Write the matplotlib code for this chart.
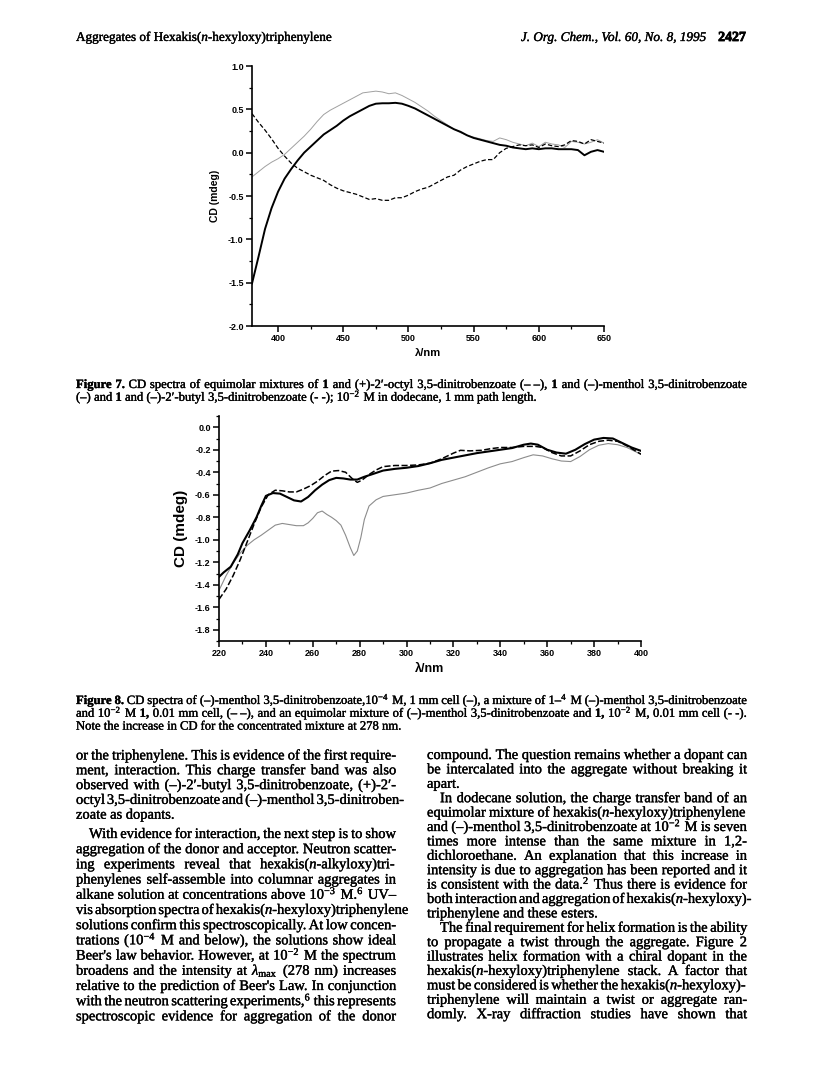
import matplotlib
matplotlib.use("Agg")
import matplotlib.pyplot as plt
import matplotlib.patheffects as pe
import numpy as np
from matplotlib.ticker import MultipleLocator, FormatStrFormatter

# ---- Figure 7 data (CD, mdeg vs nm) ----
f7_nm = [380, 385, 390, 395, 400, 405, 410, 415, 420, 425, 430, 435, 440, 445,
         450, 455, 460, 465, 470, 475, 480, 485, 490, 495, 500, 505, 510, 515,
         520, 525, 530, 535, 540, 545, 550, 555, 560, 565, 570, 575, 580, 585,
         590, 595, 600, 605, 610, 615, 620, 625, 630, 635, 640, 645, 650]
f7_menthol = [-1.51, -1.20, -0.88, -0.64, -0.45, -0.30, -0.19, -0.09, 0.0, 0.07,
              0.14, 0.21, 0.26, 0.31, 0.37, 0.42, 0.46, 0.50, 0.54, 0.565, 0.57,
              0.57, 0.575, 0.565, 0.54, 0.51, 0.47, 0.43, 0.39, 0.35, 0.31, 0.27,
              0.24, 0.20, 0.17, 0.15, 0.13, 0.11, 0.09, 0.08, 0.06, 0.05, 0.04,
              0.05, 0.04, 0.05, 0.05, 0.04, 0.04, 0.04, 0.03, -0.03, 0.01, 0.03, 0.01]
f7_butyl = [-0.28, -0.22, -0.16, -0.11, -0.07, -0.02, 0.05, 0.12, 0.19, 0.27,
            0.36, 0.44, 0.49, 0.53, 0.57, 0.61, 0.65, 0.69, 0.70, 0.71, 0.70,
            0.68, 0.69, 0.66, 0.62, 0.58, 0.53, 0.48, 0.42, 0.37, 0.32, 0.27,
            0.23, 0.20, 0.18, 0.16, 0.14, 0.13, 0.17, 0.15, 0.12, 0.10, 0.08,
            0.11, 0.07, 0.12, 0.10, 0.09, 0.06, 0.13, 0.12, 0.10, 0.12, 0.15, 0.11]
f7_octyl = [0.45, 0.35, 0.26, 0.16, 0.05, -0.04, -0.12, -0.18, -0.22, -0.26,
            -0.29, -0.32, -0.37, -0.41, -0.44, -0.46, -0.48, -0.51, -0.54, -0.53,
            -0.55, -0.55, -0.52, -0.52, -0.49, -0.45, -0.42, -0.40, -0.36, -0.32,
            -0.28, -0.26, -0.20, -0.16, -0.13, -0.10, -0.08, -0.08, 0.0, 0.05,
            0.07, 0.09, 0.08, 0.09, 0.06, 0.10, 0.08, 0.07, 0.09, 0.14, 0.13,
            0.10, 0.15, 0.13, 0.11]

# ---- Figure 8 data ----
f8_solid_nm = [220, 222, 225, 228, 230, 233, 236, 238, 240, 243, 246, 249, 252,
               255, 258, 261, 264, 267, 270, 273, 276, 279, 282, 285, 290, 295,
               300, 305, 310, 315, 320, 325, 330, 335, 340, 345, 350, 353, 356,
               360, 364, 368, 372, 376, 380, 384, 388, 392, 396, 400]
f8_solid = [-1.33, -1.29, -1.24, -1.13, -1.03, -0.92, -0.80, -0.70, -0.61, -0.585,
            -0.59, -0.62, -0.65, -0.66, -0.62, -0.56, -0.51, -0.47, -0.45, -0.455,
            -0.465, -0.465, -0.44, -0.42, -0.385, -0.37, -0.36, -0.345, -0.32,
            -0.29, -0.27, -0.25, -0.23, -0.215, -0.20, -0.185, -0.155, -0.145,
            -0.155, -0.20, -0.225, -0.235, -0.20, -0.15, -0.11, -0.095, -0.10,
            -0.14, -0.18, -0.21]
f8_dash_nm = [220, 223, 226, 229, 232, 235, 238, 241, 244, 247, 250, 253, 256,
              259, 262, 265, 268, 271, 274, 277, 279, 281, 284, 287, 290, 295,
              300, 305, 310, 315, 320, 323, 327, 332, 336, 340, 345, 350, 355,
              358, 362, 366, 370, 374, 378, 382, 386, 390, 394, 400]
f8_dash = [-1.53, -1.44, -1.32, -1.18, -1.02, -0.86, -0.71, -0.60, -0.56, -0.565,
           -0.575, -0.575, -0.55, -0.52, -0.48, -0.43, -0.39, -0.385, -0.40,
           -0.46, -0.49, -0.47, -0.42, -0.38, -0.35, -0.34, -0.34, -0.335, -0.32,
           -0.28, -0.23, -0.205, -0.21, -0.205, -0.19, -0.18, -0.18, -0.17, -0.17,
           -0.18, -0.225, -0.255, -0.255, -0.21, -0.155, -0.125, -0.115, -0.125,
           -0.165, -0.24]
f8_gray_nm = [220, 223, 226, 229, 232, 235, 238, 241, 244, 247, 250, 253, 256,
              258, 260, 262, 264, 266, 268, 270, 272, 274, 276, 277.5, 279, 280.5,
              282, 284, 287, 290, 295, 300, 305, 310, 315, 320, 325, 330, 335, 340,
              345, 350, 354, 358, 362, 366, 370, 374, 378, 382, 386, 390, 394, 400]
f8_gray = [-1.45, -1.32, -1.21, -1.12, -1.05, -1.0, -0.96, -0.915, -0.87, -0.855,
           -0.865, -0.875, -0.875, -0.85, -0.81, -0.76, -0.745, -0.775, -0.80,
           -0.83, -0.87, -0.96, -1.07, -1.14, -1.10, -0.98, -0.82, -0.70, -0.645,
           -0.615, -0.60, -0.585, -0.56, -0.54, -0.50, -0.47, -0.44, -0.40, -0.36,
           -0.325, -0.305, -0.27, -0.245, -0.255, -0.28, -0.30, -0.305, -0.26,
           -0.20, -0.16, -0.145, -0.155, -0.18, -0.24]

# ---- page text ----
header_left = "Aggregates of Hexakis($n$-hexyloxy)triphenylene"
header_right = "J. Org. Chem., Vol. 60, No. 8, 1995"
page_no = "2427"

cap7 = [
    ("*Figure* *7.* CD spectra of equimolar mixtures of *1* and (+)-2\u2032-octyl 3,5-dinitrobenzoate (\u2013\u00a0\u2013), *1* and (\u2013)-menthol 3,5-dinitrobenzoate", True),
    ("(\u2013) and *1* and (\u2013)-2\u2032-butyl 3,5-dinitrobenzoate (-\u00a0-); 10$^{-2}$ M in dodecane, 1 mm path length.", False),
]
cap8 = [
    ("*Figure* *8.* CD spectra of (\u2013)-menthol 3,5-dinitrobenzoate,10$^{-4}$ M, 1 mm cell (\u2013), a mixture of 1\u2013$^{4}$ M (\u2013)-menthol 3,5-dinitrobenzoate", True),
    ("and 10$^{-2}$ M *1,* 0.01 mm cell, (\u2013\u00a0\u2013), and an equimolar mixture of (\u2013)-menthol 3,5-dinitrobenzoate and *1,* 10$^{-2}$ M, 0.01 mm cell (-\u00a0-).", True),
    ("Note the increase in CD for the concentrated mixture at 278 nm.", False),
]

left_col = [
    ("or the triphenylene. This is evidence of the first require-", True, 0),
    ("ment, interaction. This charge transfer band was also", True, 0),
    ("observed with (\u2013)-2\u2032-butyl 3,5-dinitrobenzoate, (+)-2\u2032-", True, 0),
    ("octyl 3,5-dinitrobenzoate and (\u2013)-menthol 3,5-dinitroben-", True, 0),
    ("zoate as dopants.", False, 0),
    ("With evidence for interaction, the next step is to show", True, 13),
    ("aggregation of the donor and acceptor. Neutron scatter-", True, 0),
    ("ing experiments reveal that hexakis($n$-alkyloxy)tri-", True, 0),
    ("phenylenes self-assemble into columnar aggregates in", True, 0),
    ("alkane solution at concentrations above 10$^{-3}$ M.$^{6}$ UV\u2013", True, 0),
    ("vis absorption spectra of hexakis($n$-hexyloxy)triphenylene", True, 0),
    ("solutions confirm this spectroscopically. At low concen-", True, 0),
    ("trations (10$^{-4}$ M and below), the solutions show ideal", True, 0),
    ("Beer's law behavior. However, at 10$^{-2}$ M the spectrum", True, 0),
    ("broadens and the intensity at $\\lambda_{\\mathrm{max}}$ (278 nm) increases", True, 0),
    ("relative to the prediction of Beer's Law. In conjunction", True, 0),
    ("with the neutron scattering experiments,$^{6}$ this represents", True, 0),
    ("spectroscopic evidence for aggregation of the donor", True, 0),
]
right_col = [
    ("compound. The question remains whether a dopant can", True, 0),
    ("be intercalated into the aggregate without breaking it", True, 0),
    ("apart.", False, 0),
    ("In dodecane solution, the charge transfer band of an", True, 13),
    ("equimolar mixture of hexakis($n$-hexyloxy)triphenylene", True, 0),
    ("and (\u2013)-menthol 3,5-dinitrobenzoate at 10$^{-2}$ M is seven", True, 0),
    ("times more intense than the same mixture in 1,2-", True, 0),
    ("dichloroethane. An explanation that this increase in", True, 0),
    ("intensity is due to aggregation has been reported and it", True, 0),
    ("is consistent with the data.$^{2}$ Thus there is evidence for", True, 0),
    ("both interaction and aggregation of hexakis($n$-hexyloxy)-", True, 0),
    ("triphenylene and these esters.", False, 0),
    ("The final requirement for helix formation is the ability", True, 13),
    ("to propagate a twist through the aggregate. Figure 2", True, 0),
    ("illustrates helix formation with a chiral dopant in the", True, 0),
    ("hexakis($n$-hexyloxy)triphenylene stack. A factor that", True, 0),
    ("must be considered is whether the hexakis($n$-hexyloxy)-", True, 0),
    ("triphenylene will maintain a twist or aggregate ran-", True, 0),
    ("domly. X-ray diffraction studies have shown that", True, 0),
]

plt.rcParams["mathtext.fontset"] = "custom"
plt.rcParams["mathtext.rm"] = "Liberation Serif"
plt.rcParams["mathtext.it"] = "Liberation Serif:italic"
plt.rcParams["mathtext.bf"] = "Liberation Serif:bold"
plt.rcParams["axes.unicode_minus"] = False

W, H = 821, 1069
SERIF = ["Liberation Serif", "DejaVu Serif"]
SANS = ["Liberation Sans", "DejaVu Sans"]
TXT = "black"
INK = [pe.withStroke(linewidth=0.25, foreground="black")]

fig = plt.figure(figsize=(W / 100, H / 100), dpi=100)
renderer = fig.canvas.get_renderer()


def split_words(line):
    out = []
    for tk in line.split(" "):
        bold = len(tk) > 2 and tk.startswith("*") and tk.endswith("*")
        out.append((tk[1:-1] if bold else tk, bold))
    return out


def word_w(w, size, bold):
    t = fig.text(0, 0, w, fontsize=size, family=SERIF,
                 weight="bold" if bold else "normal")
    wd = t.get_window_extent(renderer).width
    t.remove()
    return wd


def fit_size(lines, width, base=10.0):
    ratios = []
    sp = base * 100 / 72 * 0.25
    for item in lines:
        line, just = item[0], item[1]
        ind = item[2] if len(item) > 2 else 0
        if not just:
            continue
        ws = split_words(line)
        nat = sum(word_w(w, base, b) for w, b in ws) + sp * (len(ws) - 1)
        ratios.append(nat / (width - ind))
    return base * 0.985 / np.median(ratios)


def draw_line(x0, x1, y, line, size, just, indent=0):
    ws = split_words(line)
    widths = [word_w(w, size, b) for w, b in ws]
    sp = size * 100 / 72 * 0.25
    start = x0 + indent
    if just and len(ws) > 1:
        gap = max((x1 - start - sum(widths)) / (len(ws) - 1), sp * 0.6)
    else:
        gap = sp
    x = start
    for (w, b), wd in zip(ws, widths):
        fig.text(x / W, 1 - y / H, w, fontsize=size, family=SERIF, color=TXT,
                 weight="bold" if b else "normal", ha="left", va="baseline",
                 path_effects=INK)
        x += wd + gap


# ---- header ----
fig.text(76 / W, 1 - 41 / H, header_left, fontsize=9.5, family=SERIF,
         color=TXT, ha="left", va="baseline", path_effects=INK)
fig.text(708 / W, 1 - 41 / H, header_right, fontsize=9.5, family=SERIF,
         style="italic", color=TXT, ha="right", va="baseline", path_effects=INK)
fig.text(746 / W, 1 - 41 / H, page_no, fontsize=10, family=SERIF,
         weight="bold", color=TXT, ha="right", va="baseline",
         path_effects=[pe.withStroke(linewidth=0.6, foreground="black")])

# ---- Figure 7 plot ----
ax1 = fig.add_axes([252 / W, 1 - 326 / H, 352 / W, 260 / H])
ax1.plot(f7_nm, f7_butyl, color="#a0a0a0", lw=0.7)
ax1.plot(f7_nm, f7_menthol, color="black", lw=1.4)
ax1.plot(f7_nm, f7_octyl, color="black", lw=0.9, ls=(0, (3.5, 1.8)))
ax1.set_xlim(380, 650)
ax1.set_ylim(-2.0, 1.0)
ax1.xaxis.set_major_locator(MultipleLocator(50))
ax1.xaxis.set_minor_locator(MultipleLocator(25))
ax1.yaxis.set_major_locator(MultipleLocator(0.5))
ax1.yaxis.set_minor_locator(MultipleLocator(0.25))
ax1.yaxis.set_major_formatter(FormatStrFormatter("%.1f"))
ax1.set_xlabel("\u03bb/nm", fontsize=8, family=SANS, weight="bold", labelpad=3)
ax1.set_ylabel("CD (mdeg)", fontsize=7.5, family=SANS, weight="bold", labelpad=6)

# ---- Figure 8 plot ----
ax2 = fig.add_axes([219 / W, 1 - 641 / H, 422 / W, 225 / H])
ax2.plot(f8_gray_nm, f8_gray, color="#8c8c8c", lw=0.8)
ax2.plot(f8_solid_nm, f8_solid, color="black", lw=1.5)
ax2.plot(f8_dash_nm, f8_dash, color="black", lw=1.1, ls=(0, (4, 1.6)))
ax2.set_xlim(220, 400)
ax2.set_ylim(-1.9, 0.1)
ax2.xaxis.set_major_locator(MultipleLocator(20))
ax2.xaxis.set_minor_locator(MultipleLocator(10))
ax2.yaxis.set_major_locator(MultipleLocator(0.2))
ax2.yaxis.set_minor_locator(MultipleLocator(0.1))
ax2.yaxis.set_major_formatter(FormatStrFormatter("%.1f"))
ax2.set_xlabel("\u03bb/nm", fontsize=9, family=SANS, weight="bold", labelpad=3)
ax2.set_ylabel("CD (mdeg)", fontsize=11, family=SANS, weight="bold", labelpad=5)

for ax in (ax1, ax2):
    for s in ("top", "right"):
        ax.spines[s].set_visible(False)
    for s in ("left", "bottom"):
        ax.spines[s].set_linewidth(1.2)
    ax.tick_params(which="major", direction="out", length=4, width=1.1,
                   labelsize=6.5, pad=2)
    ax.tick_params(which="minor", direction="out", length=2.5, width=0.9)
    for lab in ax.get_xticklabels() + ax.get_yticklabels():
        lab.set_family(SANS)
        lab.set_weight("bold")

# ---- captions ----
cap_size = fit_size(cap7 + cap8, 671)
for i, (line, just) in enumerate(cap7):
    draw_line(76, 747, 388 + i * 12.8, line, cap_size, just)
for i, (line, just) in enumerate(cap8):
    draw_line(76, 747, 704 + i * 12.8, line, cap_size, just)

# ---- body text ----
body_size = fit_size(left_col + right_col, 320)
for i, (line, just, ind) in enumerate(left_col):
    y = 759.5 + i * 14.8 if i < 5 else 838 + (i - 5) * 15.2
    draw_line(76, 396, y, line, body_size, just, ind)
for i, (line, just, ind) in enumerate(right_col):
    draw_line(427, 747, 759 + i * 14.4, line, body_size, just, ind)

fig.savefig("out.png", dpi=100, facecolor="white")
